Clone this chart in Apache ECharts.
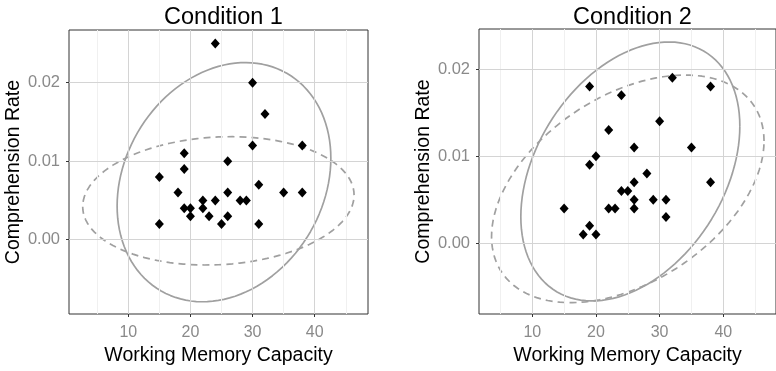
<!DOCTYPE html>
<html>
<head>
<meta charset="utf-8">
<script src="https://cdn.jsdelivr.net/npm/echarts@6/dist/echarts.min.js"></script>
<style>
  html, body { margin: 0; padding: 0; background: #ffffff; }
  #chart { width: 776px; height: 371px; }
</style>
</head>
<body>
<div id="chart"></div>
<script>
// Condition 1: working memory capacity vs comprehension rate
const wmc1 = [24, 30, 32, 30, 38, 19, 26, 19, 15, 31, 18, 26, 35, 38, 22, 24, 28, 29, 19, 20, 22, 20, 23, 26, 15, 25, 31];
const rate1 = [0.025, 0.020, 0.016, 0.012, 0.012, 0.011, 0.010, 0.009, 0.008, 0.007, 0.006, 0.006, 0.006, 0.006,
               0.005, 0.005, 0.005, 0.005, 0.004, 0.004, 0.004, 0.003, 0.003, 0.003, 0.002, 0.002, 0.002];

// Condition 2
const wmc2 = [32, 19, 38, 24, 30, 22, 26, 35, 20, 19, 28, 38, 26, 24, 25, 26, 29, 31, 15, 22, 23, 26, 31, 19, 18, 20];
const rate2 = [0.019, 0.018, 0.018, 0.017, 0.014, 0.013, 0.011, 0.011, 0.010, 0.009, 0.008, 0.007, 0.007,
               0.006, 0.006, 0.005, 0.005, 0.005, 0.004, 0.004, 0.004, 0.004, 0.003, 0.002, 0.001, 0.001];

// 95% regions: [centre x, centre y, half-width, half-height, correlation]
const solidRegion1  = [25.4, 0.00733, 17.2, 0.01523, 0.20];
const dashedRegion1 = [24.5, 0.00495, 21.84, 0.00817, 0.09];
const solidRegion2  = [25.4, 0.00824, 17.2, 0.01487, 0.35];
const dashedRegion2 = [25.0, 0.00624, 21.4, 0.01307, 0.42];

const panelTitles = ['Condition 1', 'Condition 2'];
const xTicks = [10, 20, 30, 40];
const yTicks = [0, 0.01, 0.02];
const xMinor = [5, 15, 25, 35, 45];
const yMinor = [-0.005, 0.005, 0.015, 0.025];
const xLimits = [[0.455, 48.58], [1.63, 48.28]];
const yLimits = [[-0.00946, 0.02671], [-0.00813, 0.0246]];

const FONT = '"Liberation Sans", Arial, sans-serif';

// Outline of an ellipse given its centre, half extents and correlation
function ellipsePoints(region, segments = 120) {
  const [cx, cy, hx, hy, rho] = region;
  const s = Math.sqrt(1 - rho * rho);
  const pts = [];
  for (let k = 0; k <= segments; k++) {
    const t = k * 2 * Math.PI / segments;
    const u = Math.cos(t), v = Math.sin(t);
    pts.push([cx + hx * u, cy + hy * (rho * u + s * v)]);
  }
  return pts;
}

// Reference lines at given axis values (used for the panel grid)
function gridLines(i, xs, ys, color, z) {
  return {
    type: 'scatter', xAxisIndex: i, yAxisIndex: i, data: [], z: z, silent: true,
    markLine: {
      silent: true, symbol: ['none', 'none'], label: { show: false }, animation: false,
      lineStyle: { color: color, width: 1, type: 'solid' },
      emphasis: { disabled: true },
      data: xs.map(v => ({ xAxis: v })).concat(ys.map(v => ({ yAxis: v })))
    }
  };
}

const panels = [
  { xs: wmc1, ys: rate1, solid: solidRegion1, dashed: dashedRegion1 },
  { xs: wmc2, ys: rate2, solid: solidRegion2, dashed: dashedRegion2 }
];
const gridBoxes = [
  { left: 69, top: 30, width: 299, height: 284 },
  { left: 479, top: 29, width: 297, height: 285 }
];

const grids = [], xAxes = [], yAxes = [], series = [], titles = [];

panels.forEach((p, i) => {
  const box = gridBoxes[i];
  grids.push(Object.assign({
    show: true, borderColor: '#333333', borderWidth: 1, backgroundColor: 'transparent',
    containLabel: false
  }, box));

  titles.push({
    text: panelTitles[i],
    left: box.left + box.width / 2,
    top: 1,
    textAlign: 'center',
    textStyle: { fontFamily: FONT, fontSize: 23.5, fontWeight: 'normal', color: '#000000' }
  });

  xAxes.push({
    gridIndex: i, type: 'value', min: xLimits[i][0], max: xLimits[i][1], splitNumber: 4, z: 2,
    name: 'Working Memory Capacity', nameLocation: 'middle', nameGap: 31,
    nameTextStyle: { fontFamily: FONT, fontSize: 19.5, color: '#000000' },
    axisLine: { show: false, onZero: false },
    axisTick: { show: true, length: 3, customValues: xTicks, lineStyle: { color: '#333333' } },
    axisLabel: { customValues: xTicks, fontFamily: FONT, fontSize: 16, color: '#8a8a8a', margin: 11 },
    splitLine: { show: false }
  });

  yAxes.push({
    gridIndex: i, type: 'value', min: yLimits[i][0], max: yLimits[i][1], splitNumber: 4, z: 2,
    name: 'Comprehension Rate', nameLocation: 'middle', nameGap: 44, nameRotate: 90,
    nameTextStyle: { fontFamily: FONT, fontSize: 19.5, color: '#000000' },
    axisLine: { show: false, onZero: false },
    axisTick: { show: true, length: 3, customValues: yTicks, lineStyle: { color: '#333333' } },
    axisLabel: { customValues: yTicks, fontFamily: FONT, fontSize: 16.5, color: '#8a8a8a', margin: 9,
                 formatter: v => v.toFixed(2) },
    splitLine: { show: false }
  });

  // minor then major grid lines
  series.push(gridLines(i, xMinor, yMinor, '#f0f0f0', 1));
  series.push(gridLines(i, xTicks, yTicks, '#d4d4d4', 2));

  // solid and dashed 95% ellipses
  series.push({
    type: 'line', xAxisIndex: i, yAxisIndex: i, data: ellipsePoints(p.solid),
    showSymbol: false, silent: true, z: 3, animation: false,
    lineStyle: { color: '#a0a0a0', width: 1.7, type: 'solid' }
  });
  series.push({
    type: 'line', xAxisIndex: i, yAxisIndex: i, data: ellipsePoints(p.dashed),
    showSymbol: false, silent: true, z: 3, animation: false,
    lineStyle: { color: '#a0a0a0', width: 1.7, type: [7, 5] }
  });

  series.push({
    type: 'scatter', xAxisIndex: i, yAxisIndex: i, z: 5, animation: false,
    data: p.xs.map((x, k) => [x, p.ys[k]]),
    symbol: 'diamond', symbolSize: [9, 10],
    itemStyle: { color: '#000000', opacity: 1 }
  });
});

const chart = echarts.init(document.getElementById('chart'), null, { renderer: 'canvas' });
chart.setOption({
  backgroundColor: '#ffffff',
  animation: false,
  title: titles,
  grid: grids,
  xAxis: xAxes,
  yAxis: yAxes,
  series: series
});
</script>
</body>
</html>
